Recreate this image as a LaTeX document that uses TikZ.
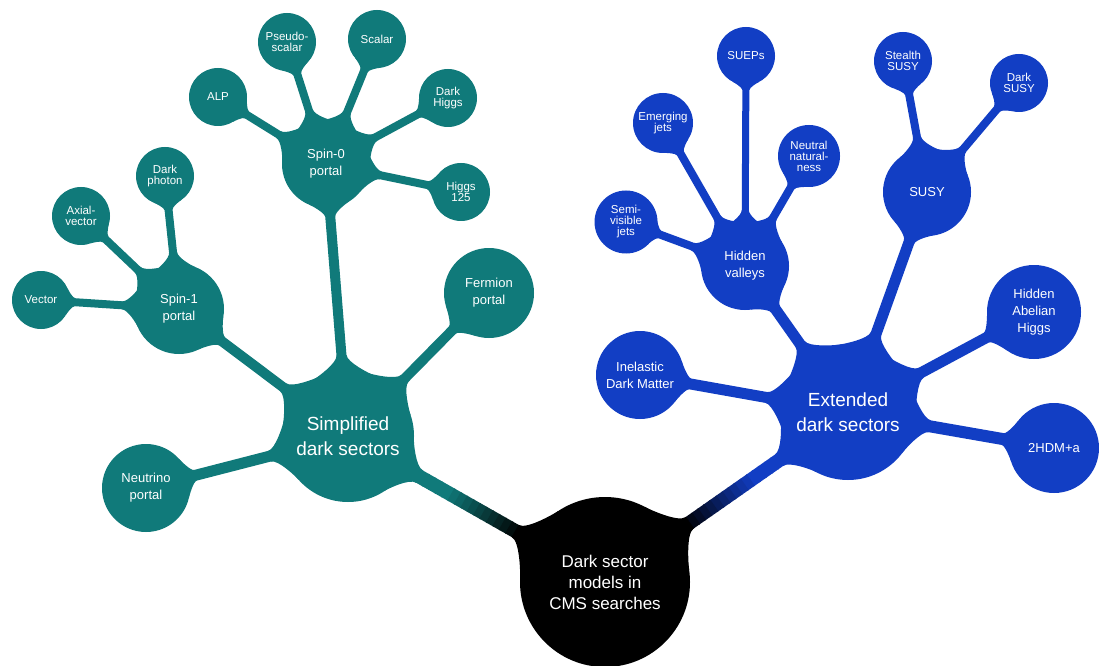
\documentclass[tikz,border=0pt]{standalone}
\usepackage{fontspec}
\setmainfont{Liberation Sans}
\usetikzlibrary{calc,backgrounds}
\definecolor{tealc}{RGB}{16,122,122}
\definecolor{bluec}{RGB}{18,62,196}
\tikzset{
  bubble/.style={circle, fill=#1, text=white, inner sep=0pt, align=center},
  leaf/.style={bubble=#1, minimum size=58pt, font=\fontsize{11.5}{11}\selectfont},
  midb/.style={bubble=#1, minimum size=90pt, font=\fontsize{13}{17}\selectfont},
  hubb/.style={bubble=#1, minimum size=134pt, font=\fontsize{19}{24.5}\selectfont},
  rootb/.style={bubble=black, minimum size=170pt, font=\fontsize{17}{21}\selectfont},
}
% fillet: #1 node, #2 other node, #3 radius of #1, #4 flare length, #5 half width, #6 colour
\newcommand\fillet[6]{%
  \fill[#6] let \p1=($(#2.center)-(#1.center)$), \n1={atan2(\y1,\x1)},
     \n2={#3+#4}, \n3={#3+0.5*#4}, \n4={0.3*#4} in
    (#1.center) -- ($(#1.center)+(\n1+27:#3)$)
    .. controls ($(#1.center)+(\n1+27:#3)+(\n1-63:\n4)$) and ($(#1.center)+(\n1:\n3)+(\n1+90:#5)$)
    .. ($(#1.center)+(\n1:\n2)+(\n1+90:#5)$)
    -- ($(#1.center)+(\n1:\n2)+(\n1-90:#5)$)
    .. controls ($(#1.center)+(\n1:\n3)+(\n1-90:#5)$) and ($(#1.center)+(\n1-27:#3)+(\n1+63:\n4)$)
    .. ($(#1.center)+(\n1-27:#3)$) -- cycle;}
% branch: #1 parent, #2 child, #3 r parent, #4 r child, #5 width, #6 colour, #7 flare parent, #8 flare child
\newcommand\branch[8]{%
  \draw[#6, line width=#5pt] (#1.center) -- (#2.center);
  \fillet{#1}{#2}{#3}{#7}{#5/2}{#6}
  \fillet{#2}{#1}{#4}{#8}{#5/2}{#6}}
% trunk with gradient to black
\newcommand\trunk[5]{% #1 hub, #2 root, #3 colour, #4 r hub, #5 r root
  \foreach \i in {0,...,39}{
    \pgfmathsetmacro\pp{int(max(0,min(100,(0.67-(\i+0.5)/40)/0.28*100)))}
    \draw[line width=14pt, color=#3!\pp!black] ($(#1.center)!\i/40!(#2.center)$) -- ($(#1.center)!{(\i+1.2)/40}!(#2.center)$);
  }
  \fillet{#1}{#2}{#4}{16}{7}{#3}
  \fillet{#2}{#1}{#5}{18}{7}{black}}

\begin{document}
\begin{tikzpicture}[x=1pt,y=1pt]
\useasboundingbox (0,0) rectangle (1099,665);
% teal side
\node[leaf=tealc] (vector) at (41,365) {Vector};
\node[leaf=tealc] (axial) at (81,449) {Axial-\\vector};
\node[leaf=tealc] (dphoton) at (165,489) {Dark\\photon};
\node[midb=tealc] (spin1) at (179,356) {Spin-1\\portal};
\node[leaf=tealc] (alp) at (218,568) {ALP};
\node[leaf=tealc] (pseudo) at (287,623) {Pseudo-\\scalar};
\node[leaf=tealc] (scalar) at (377,626) {Scalar};
\node[leaf=tealc] (dhiggs) at (448,567) {Dark\\Higgs};
\node[leaf=tealc] (h125) at (461,473) {Higgs\\125};
\node[midb=tealc, minimum size=88pt] (spin0) at (326,501) {Spin-0\\portal};
\node[midb=tealc] (fermion) at (489,372) {Fermion\\portal};
\node[hubb=tealc, minimum size=132pt] (simp) at (348,229) {Simplified\\dark sectors};
\node[midb=tealc, minimum size=88pt] (neutrino) at (146,177) {Neutrino\\portal};
% root
\node[rootb] (root) at (605,83) {Dark sector\\models in\\CMS searches};
% blue side
\node[leaf=bluec] (sueps) at (746,609) {SUEPs};
\node[leaf=bluec, minimum size=60pt] (emerging) at (663,542) {Emerging\\jets};
\node[leaf=bluec, minimum size=62pt] (neutral) at (809,509) {Neutral\\natural-\\ness};
\node[leaf=bluec, minimum size=63pt] (semi) at (626,443) {Semi-\\visible\\jets};
\node[midb=bluec, minimum size=88pt] (hv) at (745,399) {Hidden\\valleys};
\node[leaf=bluec] (stealth) at (903,604) {Stealth\\SUSY};
\node[leaf=bluec] (dsusy) at (1019,582) {Dark\\SUSY};
\node[midb=bluec, minimum size=88pt] (susy) at (927,473) {SUSY};
\node[midb=bluec, minimum size=94pt] (hah) at (1034,353) {Hidden\\Abelian\\Higgs};
\node[midb=bluec, minimum size=88pt] (inelastic) at (640,290) {Inelastic\\Dark Matter};
\node[hubb=bluec, minimum size=136pt] (ext) at (848,253) {Extended\\dark sectors};
\node[midb=bluec] (thdm) at (1054,217) {2HDM+a};

\begin{pgfonlayer}{background}
\fill[white] (0,0) rectangle (1099,665);
% teal branches
\branch{spin1}{vector}{45}{29}{8}{tealc}{12}{5}
\branch{spin1}{axial}{45}{29}{8}{tealc}{12}{5}
\branch{spin1}{dphoton}{45}{29}{8}{tealc}{12}{5}
\branch{spin0}{alp}{44}{29}{8}{tealc}{12}{5}
\branch{spin0}{pseudo}{44}{29}{8}{tealc}{12}{5}
\branch{spin0}{scalar}{44}{29}{8}{tealc}{12}{5}
\branch{spin0}{dhiggs}{44}{29}{8}{tealc}{12}{5}
\branch{spin0}{h125}{44}{29}{8}{tealc}{12}{5}
\branch{simp}{spin1}{66}{45}{10}{tealc}{15}{9}
\branch{simp}{spin0}{66}{44}{10}{tealc}{15}{9}
\branch{simp}{fermion}{66}{45}{10}{tealc}{15}{7}
\branch{simp}{neutrino}{66}{44}{11}{tealc}{15}{7}
% blue branches
\branch{hv}{semi}{44}{31}{8}{bluec}{12}{5}
\branch{hv}{emerging}{44}{30}{8}{bluec}{12}{5}
\branch{hv}{sueps}{44}{29}{7}{bluec}{12}{5}
\branch{hv}{neutral}{44}{31}{8}{bluec}{12}{5}
\branch{susy}{stealth}{44}{29}{8}{bluec}{12}{5}
\branch{susy}{dsusy}{44}{29}{8}{bluec}{12}{5}
\branch{ext}{hv}{68}{44}{11}{bluec}{15}{9}
\branch{ext}{susy}{68}{44}{11}{bluec}{15}{9}
\branch{ext}{hah}{68}{47}{11}{bluec}{15}{7}
\branch{ext}{thdm}{68}{45}{12}{bluec}{15}{7}
\branch{ext}{inelastic}{68}{44}{11}{bluec}{15}{7}
% trunks
\trunk{simp}{root}{tealc}{66}{85}
\trunk{ext}{root}{bluec}{68}{85}
\end{pgfonlayer}
\end{tikzpicture}
\end{document}
